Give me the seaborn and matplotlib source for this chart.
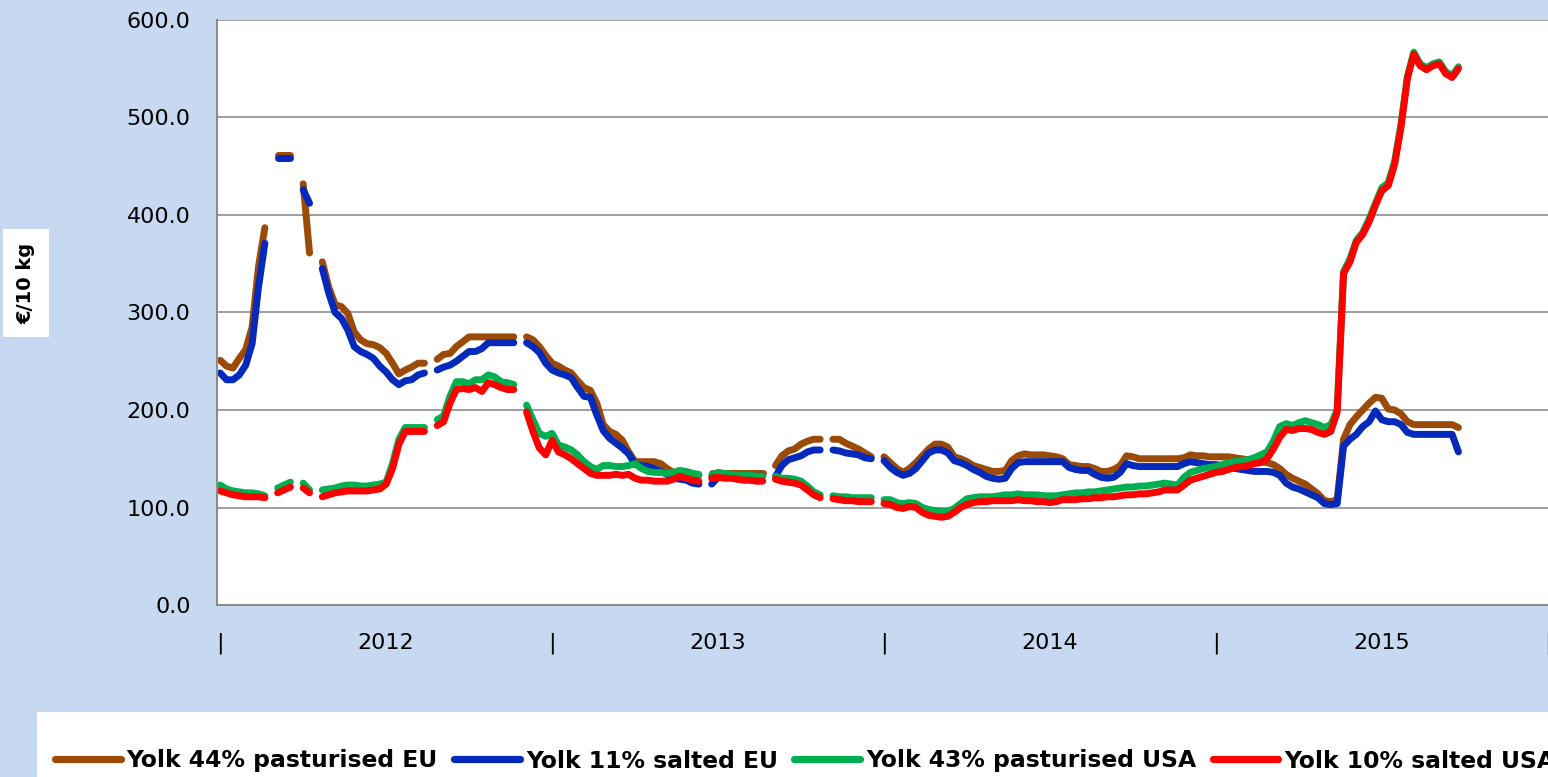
import numpy as np
import pandas as pd
import matplotlib
matplotlib.use('Agg')
import matplotlib.pyplot as plt
from matplotlib.lines import Line2D
from matplotlib.patches import Rectangle
from matplotlib.ticker import FormatStrFormatter
import seaborn as sns

#%% data: weekly prices in €/10 kg, first week of 2012 onwards, None = no quote
yolk44_eu = [
    251, 245, 243, 253, 262, 285, 347, 387, None, 462,
    462, 462, None, 432, 361, None, 352, 326, 308, 306,
    299, 280, 272, 268, 267, 264, 258, 248, 237, 241,
    244, 248, 248, None, 252, 257, 258, 265, 270, 275,
    275, 275, 275, 275, 275, 275, 275, None, 275, 272,
    265, 256, 248, 245, 241, 238, 230, 223, 220, 207,
    185, 178, 175, 169, 157, 147, 147, 147, 147, 145,
    140, 136, 135, 134, 133, 133, None, 135, 135, 135,
    135, 135, 135, 135, 135, 135, None, 143, 153, 158,
    160, 165, 168, 170, 170, None, 170, 170, 166, 163,
    160, 156, 152, None, 152, 146, 140, 136, 140, 146,
    153, 160, 165, 165, 162, 152, 150, 147, 143, 141,
    139, 137, 137, 138, 148, 153, 155, 154, 154, 154,
    153, 152, 150, 144, 143, 142, 142, 140, 137, 137,
    139, 143, 153, 152, 150, 150, 150, 150, 150, 150,
    150, 151, 154, 153, 153, 152, 152, 152, 152, 151,
    150, 149, 148, 147, 146, 144, 140, 134, 130, 127,
    124, 119, 114, 107, 106, 108, 170, 185, 193, 200,
    207, 213, 212, 201, 200, 196, 188, 185, 185, 185,
    185, 185, 185, 185, 182,
]
yolk11_eu = [
    238, 231, 231, 236, 246, 268, 326, 371, None, 458,
    458, 458, None, 426, 412, None, 345, 320, 300, 294,
    282, 265, 260, 257, 253, 245, 239, 231, 226, 230,
    231, 236, 238, None, 241, 244, 246, 250, 255, 260,
    260, 263, 269, 269, 269, 269, 269, None, 269, 265,
    259, 248, 241, 238, 236, 233, 223, 214, 213, 195,
    179, 171, 166, 161, 155, 144, 143, 142, 140, 137,
    134, 130, 129, 128, 125, 124, None, 124, 131, 132,
    132, 132, 132, 132, 132, 132, None, 132, 143, 149,
    151, 153, 157, 159, 159, None, 159, 158, 156, 155,
    154, 151, 150, None, 148, 141, 136, 133, 135, 140,
    148, 156, 159, 159, 156, 148, 146, 143, 139, 136,
    132, 130, 129, 130, 140, 146, 147, 147, 147, 147,
    147, 147, 147, 141, 139, 138, 138, 134, 131, 130,
    131, 136, 145, 143, 142, 142, 142, 142, 142, 142,
    142, 145, 147, 146, 145, 144, 144, 143, 142, 140,
    139, 138, 137, 137, 137, 136, 133, 125, 121, 119,
    116, 113, 110, 104, 103, 104, 163, 170, 175, 183,
    188, 199, 190, 188, 188, 185, 177, 175, 175, 175,
    175, 175, 175, 175, 157,
]
yolk43_usa = [
    123, 119, 117, 116, 115, 115, 114, 112, None, 120,
    123, 126, None, 125, 118, None, 118, 119, 120, 122,
    123, 123, 122, 122, 123, 124, 126, 145, 170, 182,
    182, 182, 182, None, 190, 194, 214, 229, 229, 227,
    231, 231, 236, 234, 229, 228, 226, None, 205, 190,
    176, 173, 176, 164, 162, 159, 154, 147, 142, 139,
    143, 143, 142, 142, 143, 145, 140, 137, 136, 136,
    135, 136, 138, 137, 135, 134, None, 133, 136, 135,
    134, 133, 133, 133, 132, 132, None, 132, 130, 130,
    129, 127, 122, 116, 113, None, 112, 111, 111, 110,
    110, 110, 110, None, 108, 108, 105, 104, 105, 104,
    100, 98, 97, 96, 96, 99, 104, 109, 110, 111,
    111, 111, 112, 113, 113, 114, 113, 113, 113, 112,
    112, 112, 113, 114, 115, 115, 116, 116, 117, 118,
    119, 120, 121, 121, 122, 122, 123, 124, 125, 124,
    123, 131, 136, 138, 140, 141, 142, 144, 146, 147,
    148, 149, 151, 154, 157, 168, 183, 186, 184, 187,
    189, 187, 185, 182, 185, 200, 342, 355, 374, 382,
    396, 412, 428, 433, 455, 493, 542, 567, 555, 551,
    555, 557, 547, 543, 552,
]
yolk10_usa = [
    117, 115, 113, 112, 111, 111, 111, 110, None, 115,
    118, 121, None, 120, 115, None, 111, 113, 115, 116,
    117, 117, 117, 117, 118, 119, 124, 140, 165, 178,
    178, 178, 178, None, 184, 188, 207, 221, 222, 221,
    223, 219, 228, 226, 223, 221, 221, None, 198, 178,
    161, 154, 169, 157, 154, 150, 145, 140, 135, 133,
    133, 133, 134, 133, 134, 130, 128, 128, 127, 127,
    127, 129, 132, 130, 128, 127, None, 130, 131, 130,
    130, 129, 128, 128, 127, 127, None, 129, 127, 126,
    125, 123, 118, 113, 110, None, 109, 108, 107, 107,
    106, 106, 106, None, 104, 103, 100, 99, 101, 100,
    95, 92, 91, 90, 91, 95, 100, 103, 105, 106,
    106, 107, 107, 107, 107, 108, 107, 107, 106, 106,
    105, 106, 108, 108, 108, 109, 109, 110, 110, 111,
    111, 112, 113, 113, 114, 114, 115, 116, 118, 118,
    118, 123, 128, 130, 132, 134, 136, 137, 139, 141,
    142, 143, 145, 146, 150, 160, 172, 180, 179, 181,
    181, 180, 177, 175, 178, 198, 340, 352, 372, 380,
    393, 410, 425, 430, 452, 490, 540, 565, 553, 549,
    553, 555, 545, 541, 550,
]

series_names = ['Yolk 44% pasturised EU', 'Yolk 11% salted EU',
                'Yolk 43% pasturised USA', 'Yolk 10% salted USA']
series_colors = ['#9C4A08', '#0429BB', '#00B050', '#FF0000']
year_ticks = [0, 26, 52, 78, 104, 130, 156, 182, 208]
year_labels = ['|', '2012', '|', '2013', '|', '2014', '|', '2015', '|']
n_weeks = 209

# long table, one unit per unbroken stretch so gaps stay gaps
frames = []
for name, vals in zip(series_names, [yolk44_eu, yolk11_eu, yolk43_usa, yolk10_usa]):
    s = pd.Series(vals, dtype=float)
    d = pd.DataFrame({'week': np.arange(len(s)), 'price': s, 'product': name})
    d['seg'] = name + '_' + s.isna().cumsum().astype(str)
    frames.append(d.dropna())
df = pd.concat(frames, ignore_index=True)

#%% plot
sns.set_style('white')
plt.rcParams['font.family'] = ['DejaVu Sans']
plt.rcParams['text.color'] = 'black'

W, H = 1548, 777
fig = plt.figure(figsize=(W / 100, H / 100), dpi=100, facecolor='#C6D9F0')
fig.add_artist(Rectangle((37 / W, 0), 1, 65 / H, transform=fig.transFigure,
                         facecolor='white', edgecolor='none', zorder=0))
ax = fig.add_axes([217 / W, 172 / H, 1334 / W, 585 / H])
ax.set_facecolor('white')

sns.lineplot(data=df, x='week', y='price', hue='product', units='seg',
             estimator=None, sort=False, hue_order=series_names,
             palette=series_colors, linewidth=5.0, solid_capstyle='round',
             solid_joinstyle='round', legend=False, ax=ax)

ax.set_xlim(-0.5, n_weeks - 0.5)
ax.set_ylim(0, 600)
ax.set_yticks(range(0, 601, 100))
ax.yaxis.set_major_formatter(FormatStrFormatter('%.1f'))
ax.grid(axis='y', color='#969696', linewidth=1.3)
ax.grid(axis='x', visible=False)
ax.set_axisbelow(True)

ax.set_xticks(year_ticks, year_labels)
ax.set_xticks(np.arange(-0.5, n_weeks, 1), minor=True)
ax.tick_params(axis='x', which='major', length=0, pad=20, labelsize=16, labelcolor='black')
ax.tick_params(axis='x', which='minor', length=4.5, width=1, color='#969696')
ax.tick_params(axis='y', length=7, width=1.3, color='#969696', pad=12,
               labelsize=16, labelcolor='black')
for side in ['top', 'right']:
    ax.spines[side].set_visible(False)
for side in ['left', 'bottom']:
    ax.spines[side].set_color('#8C8C8C')
    ax.spines[side].set_linewidth(1.5)
ax.set_xlabel('')
ax.set_ylabel('')

fig.text(26 / W, 1 - 283 / H, '€/10 kg', rotation=90, fontsize=14,
         fontweight='bold', color='black', ha='center', va='center',
         bbox=dict(facecolor='white', edgecolor='none', pad=10))

handles = [Line2D([], [], color=c, linewidth=5.2, solid_capstyle='round') for c in series_colors]
fig.legend(handles, series_names, loc='center left',
           bbox_to_anchor=(55 / W, 1 - 761 / H), ncol=4, frameon=False,
           prop={'weight': 'bold', 'size': 16.9}, labelcolor='black',
           handlelength=2.8, handletextpad=0.25, columnspacing=0.7,
           borderaxespad=0, borderpad=0)

fig.savefig('out.png', dpi=100, facecolor=fig.get_facecolor())
